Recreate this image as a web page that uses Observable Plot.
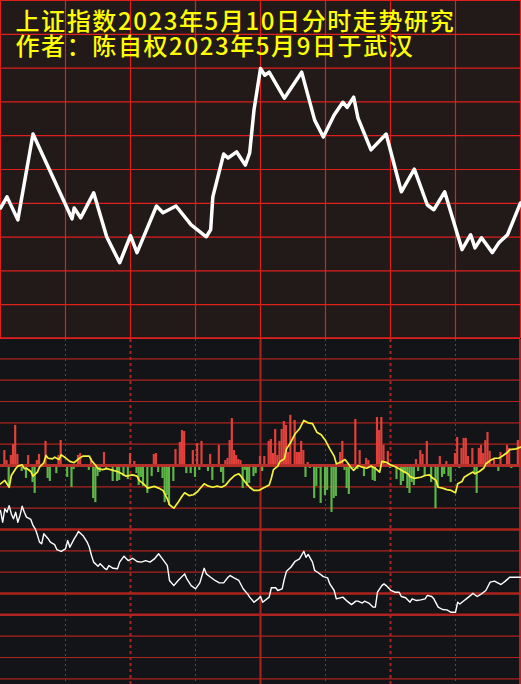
<!DOCTYPE html>
<html><head><meta charset="utf-8">
<script src="https://cdn.jsdelivr.net/npm/d3@7"></script>
<script src="https://cdn.jsdelivr.net/npm/@observablehq/plot@0.6"></script>
<style>
html,body{margin:0;padding:0;background:#131417;}
#chart{width:521px;height:684px;overflow:hidden;}
#chart svg{display:block;}
#upper g[aria-label="text"] text{letter-spacing:1.6px;}
</style></head><body><div id="chart"></div>
<script>
// ---- text ----
const titleLine1 = "上证指数2023年5月10日分时走势研究";
const titleLine2 = "作者：陈自权2023年5月9日于武汉";

// ---- axes (minutes of the trading day, 4 hours) ----
const timeTicks = [0,30,60,90,120,150,180,210,240];
const priceTicks = [3300,3310,3320,3330,3340,3350,3360,3370,3380,3390,3400];
const flowTicks = [50,40,30,20,10,0,-10,-20,-30,-40,-50,-60,-70,-80,-90,-100];

// ---- upper panel: forecast index path ----
const topMinutes = [0,3,8,15,33,34,37,43,49,55,60,63,72,75,81,88,95,97,98,103,105,109,113,115,117,120,122,124,131,139,145,149,154,158,160,163,165,171,178,185,191,197,200,205,213,217,219,222,227,230,234,240];
const topValues = [3338.6,3341.9,3335.1,3360.5,3335.4,3338.6,3335.7,3343.1,3330.1,3322.4,3330.4,3325.4,3339.2,3337.2,3339.2,3333.6,3330.1,3332.2,3341.9,3354.6,3353.4,3355.2,3351.3,3354.9,3367.6,3379.9,3377.9,3378.8,3371.1,3378.8,3364.6,3359.6,3366.1,3369.9,3368.4,3371.4,3365.2,3355.8,3360.5,3343.4,3350.1,3339.5,3338.1,3343.4,3326.3,3330.7,3326.8,3329.8,3325.4,3328.3,3330.7,3340.1];

// ---- lower panel: bars ----
const barMinutes = [2,3,4,5,6,7,8,10,12,13,15,16,17,18,21,22,23,26,27,28,31,33,34,36,37,41,42,43,44,45,46,48,49,52,54,55,57,59,60,62,63,64,65,66,68,70,71,72,73,75,76,77,78,80,81,83,84,85,86,88,89,90,91,92,93,96,97,98,101,102,103,104,105,106,107,108,109,110,111,112,113,114,115,117,118,120,121,122,124,125,126,127,128,129,130,131,132,133,134,136,137,138,139,140,141,142,143,145,146,147,148,150,151,153,154,155,157,158,159,160,161,163,164,165,166,168,169,170,172,173,174,175,176,177,179,180,183,185,186,187,188,189,190,191,192,193,194,195,196,197,199,201,202,203,204,205,206,207,208,210,211,212,213,214,215,216,218,219,220,221,222,223,224,225,226,228,230,231,234,235,236,239];
const barValues = [7.0,2.3,-9.8,4.7,9.8,18.8,5.2,-2.8,-6.1,4.7,-8.0,-13.1,2.3,5.2,11.3,-6.1,-7.5,-3.8,4.7,11.7,-5.6,-10.3,-1.9,4.7,5.6,-2.3,3.3,-15.5,-17.4,-5.2,-3.3,6.1,-1.4,-7.5,-7.5,-7.0,-5.2,-6.6,5.6,1.9,-3.8,-9.4,-5.6,-9.8,-13.1,-5.2,5.2,5.6,-3.3,-6.1,-17.4,-14.1,-18.8,-7.5,7.5,10.8,16.4,15.9,-3.8,-3.8,7.0,-5.6,10.3,-2.3,11.3,-2.8,5.2,-7.0,9.4,-3.3,-8.4,2.3,3.3,11.7,22.0,7.0,4.7,2.8,2.3,-10.8,-2.3,-9.8,-8.4,-5.2,-3.8,4.2,-2.8,4.2,11.3,12.2,5.6,16.9,4.7,11.3,16.9,20.6,18.8,6.1,23.5,21.1,6.1,6.1,11.3,7.0,-5.6,1.4,-1.4,-15.5,-9.8,-1.4,-17.8,-14.1,-11.7,-22.0,-15.5,-14.5,6.1,11.3,-2.3,-10.8,-13.6,-1.4,21.6,-1.9,7.0,-5.2,3.3,2.3,-7.0,-7.5,22.5,16.4,22.5,9.4,6.6,-1.4,-6.6,-9.4,-7.5,-3.8,-10.8,-13.1,-8.0,-9.4,2.8,-2.8,7.0,5.2,-5.2,11.3,-8.0,-20.2,-10.3,4.2,-5.6,-4.2,1.9,-5.2,-8.0,5.6,13.1,-1.4,8.0,12.7,12.7,4.2,8.0,-3.8,-13.1,8.0,9.4,5.6,11.7,15.5,6.6,2.8,-2.8,6.1,9.4,8.0,-1.4,11.7];

// ---- lower panel: yellow line ----
const ylMinutes = [0,2,4,5,7,8,10,11,12,14,15,17,18,20,21,22,24,25,27,28,30,32,34,36,38,41,42,44,45,47,49,52,54,56,58,61,63,64,66,68,71,73,75,77,78,80,82,84,85,87,89,91,92,94,96,98,100,102,104,106,108,110,111,113,115,117,119,120,122,124,125,126,128,129,131,132,134,136,138,140,142,144,146,148,150,152,154,155,157,159,160,162,163,165,167,169,171,173,175,176,178,180,182,184,186,188,189,191,194,196,198,199,201,202,204,206,208,210,211,213,214,216,218,219,221,223,224,226,228,230,232,234,235,238,240];
const ylValues = [-8.6,-7.0,-10.2,-4.7,-1.5,-0.3,0.3,-1.5,-1.3,-2.8,-5.0,-3.1,-0.8,1.3,4.7,3.4,3.1,3.9,2.8,5.0,3.6,1.9,1.3,3.1,4.4,4.4,2.3,0,-1.5,-1.9,-1.5,-2.3,-2.8,-3.9,-5.0,-4.4,-5.0,-7.0,-8.6,-10.6,-9.8,-10.6,-11.7,-15.6,-18.4,-20.0,-17.2,-14.1,-12.8,-14.1,-13.7,-12.2,-10.9,-8.6,-9.7,-10.2,-9.7,-10.2,-9.1,-6.6,-4.7,-3.9,-5.0,-7.8,-10.2,-11.7,-11.7,-11.3,-10.2,-9.1,-6.0,-1.9,-0.3,1.9,3.1,7.8,10.9,14.9,17.2,21.1,20.0,19.6,15.6,14.4,11.7,7.8,4.4,0.8,1.5,2.8,1.5,-1.3,-2.3,0,-0.8,-1.3,-0.3,-1.3,-3.1,1.9,1.5,0.3,-0.5,-1.5,-2.8,-3.9,-5.2,-6.0,-5.5,-4.7,-4.4,-5.5,-7.0,-10.2,-10.6,-11.3,-11.7,-12.8,-8.6,-7.5,-5.5,-4.2,-3.1,-3.9,-2.8,-1.3,0.8,2.3,3.4,3.4,4.7,6.2,7.4,7.8,8.6];

// ---- lower panel: white line ----
const wlMinutes = [0,1,2,3,4,5,6,7,8,9,10,11,12,14,15,16,17,18,19,20,22,23,25,26,28,30,31,32,34,35,36,38,40,41,42,43,45,46,48,49,50,52,54,55,57,59,61,63,65,67,69,71,73,75,77,78,80,82,85,86,88,90,92,94,95,97,99,101,103,105,106,108,110,112,114,115,117,119,120,121,124,125,127,128,130,131,132,134,136,138,140,141,142,144,145,147,149,151,152,154,155,158,160,162,164,165,167,168,170,172,173,174,176,177,178,180,182,184,185,187,189,190,192,194,196,197,199,200,202,204,206,208,210,211,212,214,215,217,218,220,222,224,226,228,231,233,235,238,240];
const wlValues = [-21.1,-26.6,-20.3,-21.9,-18.8,-22.7,-25.0,-21.9,-26.6,-23.4,-19.1,-21.9,-24.2,-25.3,-28.1,-29.7,-32.5,-35.9,-36.7,-32.0,-34.3,-35.9,-37.1,-39.4,-40.3,-39.1,-35.2,-38.3,-34.4,-32.8,-30.9,-32.8,-35.9,-38.3,-42.2,-45.3,-47.2,-46.1,-48.2,-48.8,-46.9,-48.2,-48.4,-45.3,-42.5,-44.6,-43.5,-45.0,-45.3,-44.6,-45.3,-43.8,-41.4,-44.1,-46.9,-53.9,-56.3,-53.9,-50.8,-53.2,-56.3,-57.8,-55.0,-48.2,-50.8,-52.4,-53.9,-55.0,-55.0,-52.4,-51.6,-52.8,-53.9,-57.8,-60.2,-61.7,-64.1,-62.5,-61.4,-64.1,-61.7,-57.3,-57.3,-58.6,-57.8,-53.2,-49.6,-47.7,-44.9,-43.8,-40.2,-43.0,-41.7,-45.3,-49.2,-50.5,-52.1,-52.7,-55.5,-58.6,-62.5,-61.7,-63.6,-65.2,-63.6,-63.6,-64.5,-63.6,-64.5,-66.4,-66.4,-59.4,-56.3,-55.5,-56.3,-58.4,-59.4,-59.4,-61.4,-62.0,-64.1,-62.5,-63.3,-63.0,-62.5,-60.9,-61.4,-62.5,-66.4,-67.5,-67.7,-68.8,-68.8,-64.1,-64.9,-63.3,-62.5,-60.9,-59.9,-61.4,-60.2,-58.6,-54.7,-54.2,-55.8,-54.2,-52.4,-52.4,-52.4];

// ---- build tables ----
const zipMV = (ms, vs) => ms.map((m, i) => ({m, v: vs[i]})).filter(d => d.v !== undefined);
const topPath = zipMV(topMinutes, topValues);
const bars = zipMV(barMinutes, barValues);
const yellowPath = zipMV(ylMinutes, ylValues);
const whitePath = zipMV(wlMinutes, wlValues);

const GRID_TOP = "#e0201c";
const GRID_BOT = "#ad231e";
const CJK = "'Noto Sans CJK SC', 'Noto Sans CJK JP', sans-serif";

const upperPlot = Plot.plot({
  width: 521, height: 339,
  marginTop: 0, marginLeft: 0, marginRight: 1, marginBottom: 1,
  x: {domain: [0, 240], axis: null},
  y: {domain: [3300, 3400], axis: null},
  style: {background: "#211a19", overflow: "hidden"},
  marks: [
    Plot.ruleX(timeTicks, {stroke: GRID_TOP, strokeWidth: 1.2}),
    Plot.ruleY(priceTicks, {stroke: GRID_TOP, strokeWidth: 1.2}),
    Plot.ruleY([3300], {stroke: GRID_TOP, strokeWidth: 2.5}),
    Plot.line(topPath, {x: "m", y: "v", stroke: "#ffffff", strokeWidth: 3.5, strokeLinejoin: "round", strokeLinecap: "round"}),
    Plot.text([titleLine1 + "\n" + titleLine2], {text: d => d, frameAnchor: "top-left", dx: 15, dy: 12, lineAnchor: "top", lineHeight: 1.04, textAnchor: "start", fill: "#ffff00", fontSize: 24, fontWeight: 500, fontFamily: CJK})
  ]
});
upperPlot.id = "upper";

const lowerPlot = Plot.plot({
  width: 521, height: 345,
  marginTop: 0, marginLeft: 0, marginRight: 1, marginBottom: 0,
  x: {domain: [0, 240], axis: null},
  y: {domain: [-102.66, 59.06], axis: null},
  style: {background: "#131417", overflow: "hidden"},
  marks: [
    Plot.ruleY(flowTicks, {stroke: GRID_BOT, strokeWidth: 1.2}),
    Plot.ruleY([-30, -60, -70], {stroke: GRID_BOT, strokeWidth: 2.5}),
    Plot.ruleX([30, 90, 150, 210], {stroke: GRID_BOT, strokeWidth: 1, strokeDasharray: "2,3"}),
    Plot.ruleX([60, 180], {stroke: GRID_BOT, strokeWidth: 2, strokeDasharray: "3,3"}),
    Plot.ruleX([120], {stroke: GRID_BOT, strokeWidth: 2}),
    Plot.ruleX([240], {stroke: GRID_BOT, strokeWidth: 3}),
    Plot.rectY(bars, {filter: d => d.v > 0, x1: d => d.m - 0.5, x2: d => d.m + 0.5, y: "v", fill: "#e2403a", inset: 0}),
    Plot.rectY(bars, {filter: d => d.v < 0, x1: d => d.m - 0.5, x2: d => d.m + 0.5, y: "v", fill: "#5fb548", inset: 0}),
    Plot.ruleY([0], {stroke: "#b5302b", strokeWidth: 3}),
    Plot.line(yellowPath, {x: "m", y: "v", stroke: "#f4f23a", strokeWidth: 1.7}),
    Plot.line(whitePath, {x: "m", y: "v", stroke: "#ffffff", strokeWidth: 1.4})
  ]
});

const host = document.getElementById("chart");
host.appendChild(upperPlot);
host.appendChild(lowerPlot);
</script>
</body></html>
